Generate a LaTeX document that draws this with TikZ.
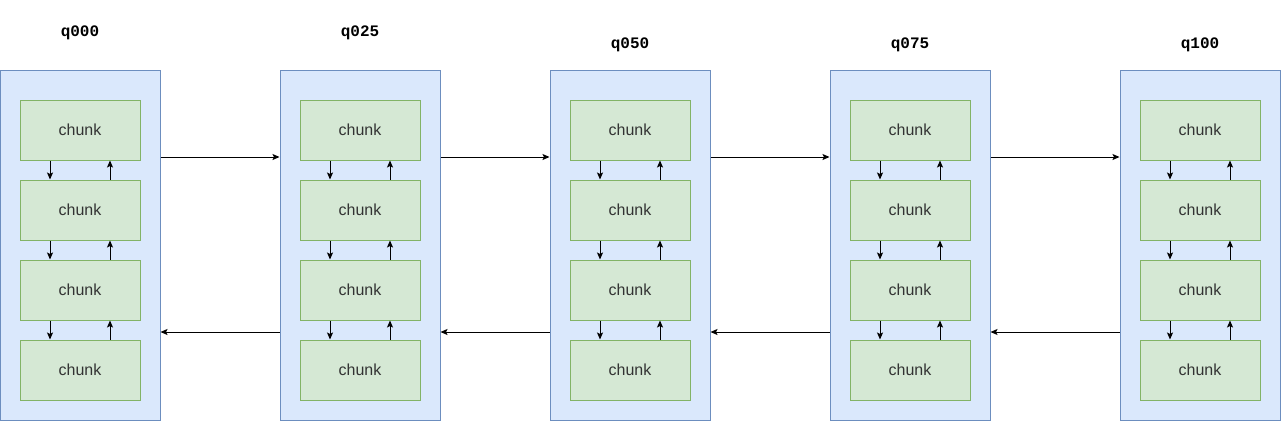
\documentclass[tikz,border=0pt]{standalone}
\usepackage{fontspec}
\setmainfont{Liberation Sans}
\newfontfamily\qfont{Liberation Mono}
\usetikzlibrary{arrows.meta}
\definecolor{qfill}{HTML}{DAE8FC}
\definecolor{qdraw}{HTML}{6C8EBF}
\definecolor{cfill}{HTML}{D5E8D4}
\definecolor{cdraw}{HTML}{82B366}
\definecolor{ctext}{HTML}{333333}

\begin{document}
\begin{tikzpicture}[x=1pt, y=-1pt,
	queue/.style={draw=qdraw, fill=qfill, line width=1pt, minimum width=160pt, minimum height=350pt, inner sep=0pt},
	chunkbox/.style={draw=cdraw, fill=cfill, line width=1pt, minimum width=120pt, minimum height=60pt, inner sep=0pt, text=ctext, font=\fontsize{16pt}{19pt}\selectfont},
	qlabel/.style={inner sep=0pt, font=\qfont\bfseries\fontsize{16pt}{19pt}\selectfont},
	link/.style={line width=1pt, -{Stealth[length=7pt, width=6pt, inset=1.5pt]}}]
			%%%%% START %%%%%
			\useasboundingbox (0,0) rectangle (1281,421);
			
			\foreach \name/\cx/\ly in {q000/80/33, q025/360/33, q050/630/45, q075/910/45, q100/1200/45} {
				\node[queue] (\name) at (\cx, 245) {};
				\node[qlabel] (\name-label) at (\cx, \ly) {\name};
				\foreach \i/\cy in {1/130, 2/210, 3/290, 4/370}
					\node[chunkbox] (\name-\i) at (\cx, \cy) {chunk};
				\foreach \i/\j in {1/2, 2/3, 3/4} {
					\draw[link] ([xshift=-30pt]\name-\i.south) -- ([xshift=-30pt]\name-\j.north);
					\draw[link] ([xshift=30pt]\name-\j.north) -- ([xshift=30pt]\name-\i.south);
				}
			}
			
			\foreach \a/\b in {q000/q025, q025/q050, q050/q075, q075/q100} {
				\draw[link] ([yshift=88pt]\a.east) -- ([yshift=88pt]\b.west);
				\draw[link] ([yshift=-87pt]\b.west) -- ([yshift=-87pt]\a.east);
			}
			
			%%%%% END %%%%%
\end{tikzpicture}
\end{document}
